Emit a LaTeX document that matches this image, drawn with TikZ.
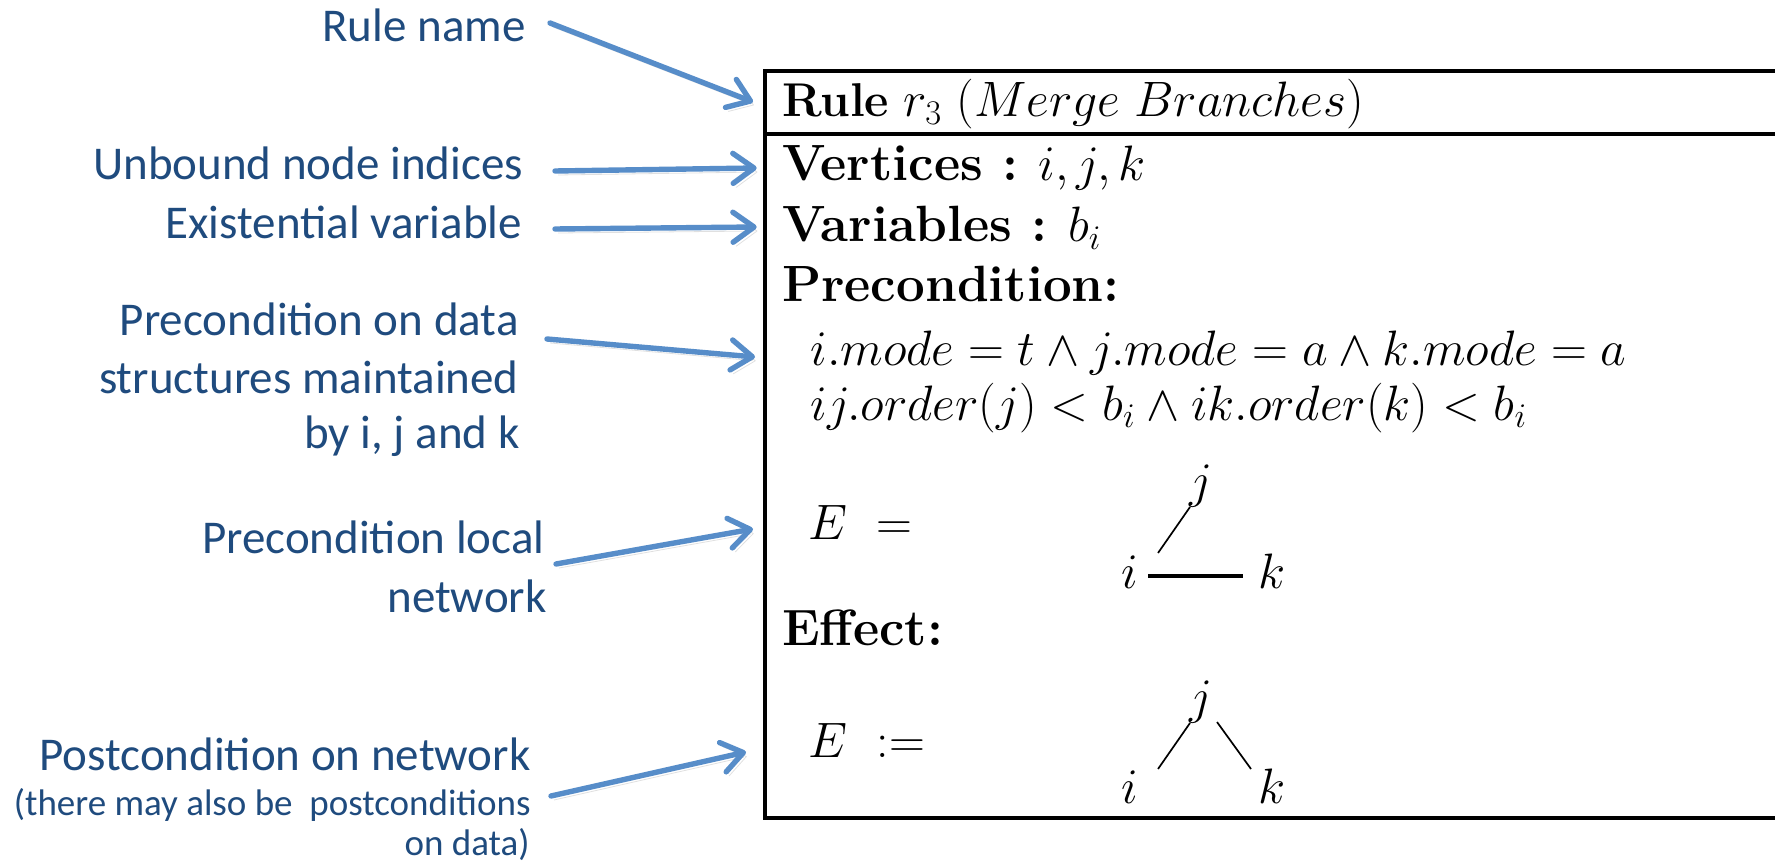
\documentclass[tikz,border=0pt]{standalone}
\usepackage{fontspec}
\newfontfamily\calib{Carlito}
\usetikzlibrary{arrows.meta,calc}
\begin{document}
\definecolor{lbltext}{RGB}{31,75,126}
\definecolor{arrowblue}{RGB}{87,141,201}
\tikzset{
  lbl/.style={anchor=base east, inner sep=0pt, text=lbltext, font=\calib\fontsize{23.5}{28}\selectfont},
  lblsmall/.style={lbl, font=\calib\fontsize{18.5}{22}\selectfont},
  pointer/.style={draw=arrowblue, line width=2.7pt, line cap=round,
    -{Straight Barb[length=10.5pt,width=15pt,line cap=round,line join=round]},
    preaction={draw=black, draw opacity=0.12, transform canvas={shift={(1.5pt,-2pt)}}}},
  boxtxt/.style={anchor=base west, inner sep=0pt, font=\fontsize{25.5}{30}\selectfont},
  headtxt/.style={anchor=base west, inner sep=0pt, font=\fontsize{23.7}{28}\selectfont},
  vtx/.style={anchor=base, inner sep=0pt, font=\fontsize{25.5}{30}\selectfont},
  frame/.style={draw=black, line width=1.65pt},
  thinedge/.style={line width=0.85pt},
  thickedge/.style={line width=2pt}
}
\begin{tikzpicture}[x=0.5pt,y=-0.5pt]
\useasboundingbox (0,0) rectangle (1775,866);
\clip (0,0) rectangle (1775,866);
\fill[white] (0,0) rectangle (1775,866);

% rule box
\coordinate (boxNW) at (765,71);
\coordinate (boxSE) at (1830,818);
\coordinate (sepL) at (765,134);
\coordinate (sepR) at (1830,134);
\draw[frame] (boxNW) rectangle (boxSE);
\draw[frame] (sepL) -- (sepR);

\node[headtxt] (head) at (781.7,117) {\textbf{Rule} $r_3$ $(Merge\ Branches)$};
\node[boxtxt] (vert) at (781.7,181) {\textbf{Vertices :} $i, j, k$};
\node[boxtxt] (vars) at (781.7,242) {\textbf{Variables :} $b_i$};
\node[boxtxt] (pre) at (781.7,301) {\textbf{Precondition:}};
\node[boxtxt] (m1) at (810,365) {$i.mode = t \wedge j.mode = a \wedge k.mode = a$};
\node[boxtxt] (m2) at (810,420) {$ij.order(j) < b_i \wedge ik.order(k) < b_i$};
\node[boxtxt] (eq1) at (808,539) {$E\ =$};
\node[boxtxt] (eff) at (781.7,645) {\textbf{Effect:}};
\node[boxtxt] (eq2) at (808,757) {$E\ :=$};

% precondition graph
\node[vtx] (j1) at (1201,497) {$j$};
\node[vtx] (i1) at (1130,588) {$i$};
\node[vtx] (k1) at (1272,588) {$k$};
\draw[thinedge] ($(i1.base)+(28,-35)$) -- ($(j1.base)+(-11,10)$);
\draw[thickedge] ($(i1.base)+(18,-12)$) -- ($(k1.base)+(-29,-12)$);

% effect graph
\node[vtx] (j2) at (1201,713) {$j$};
\node[vtx] (i2) at (1130,803) {$i$};
\node[vtx] (k2) at (1272,803) {$k$};
\draw[thinedge] ($(i2.base)+(28,-34)$) -- ($(j2.base)+(-11,10)$);
\draw[thinedge] ($(j2.base)+(16,9)$) -- ($(k2.base)+(-21,-34)$);

% labels
\node[lbl] (lrule) at (526,41.7) {Rule name};
\node[lbl] (lunb) at (523.5,180) {Unbound node indices};
\node[lbl] (lexi) at (522.5,238) {Existential variable};
\node[lbl] (lpdA) at (519,335) {Precondition on data};
\node[lbl] (lpdB) at (519,393) {structures maintained};
\node[lbl] (lpdC) at (520,448) {by i, j and k};
\node[lbl] (lplA) at (545,553) {Precondition local};
\node[lbl] (lplB) at (547,612) {network};
\node[lbl] (lpoA) at (531,770) {Postcondition on network};
\node[lblsmall] (lpoB) at (531,815) {(there may also be\ \ postconditions};
\node[lblsmall] (lpoC) at (530,855) {on data)};

% arrows
\coordinate (a1s) at (550,23);    \coordinate (a1e) at (753,102);
\coordinate (a2s) at (555,171);   \coordinate (a2e) at (756.7,168);
\coordinate (a3s) at (555,229);   \coordinate (a3e) at (756.7,227);
\coordinate (a4s) at (547,339);   \coordinate (a4e) at (755,357);
\coordinate (a5s) at (556,564);   \coordinate (a5e) at (753,529);
\coordinate (a6s) at (551,796);   \coordinate (a6e) at (746,752);
\draw[pointer] (a1s) -- (a1e);
\draw[pointer] (a2s) -- (a2e);
\draw[pointer] (a3s) -- (a3e);
\draw[pointer] (a4s) -- (a4e);
\draw[pointer] (a5s) -- (a5e);
\draw[pointer] (a6s) -- (a6e);
\end{tikzpicture}
\end{document}
